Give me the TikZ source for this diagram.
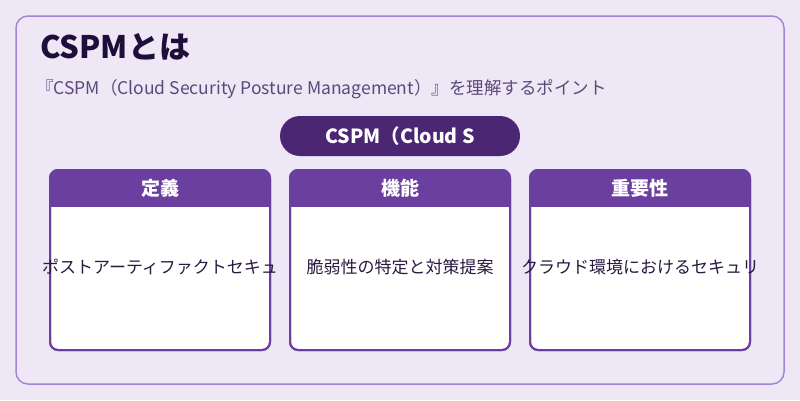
\documentclass[tikz,border=0pt]{standalone}
\usepackage{fontspec}
\setmainfont{Noto Sans CJK JP}
\begin{document}
\begin{tikzpicture}[x=1pt,y=-1pt,
  card/.style={draw=cardline,line width=2pt,fill=white,rounded corners=8pt},
  head/.style={text=white,font=\fontsize{19}{22}\selectfont\bfseries},
  body/.style={text=bodytxt,font=\fontsize{17}{20}\selectfont}]
\definecolor{bg}{HTML}{EEE7F6}
\definecolor{frame}{HTML}{A386D4}
\definecolor{cardline}{HTML}{6B3FA0}
\definecolor{pill}{HTML}{4A2673}
\definecolor{bodytxt}{HTML}{2A1A40}
\fill[bg] (0,0) rectangle (800,400);
\useasboundingbox (0,0) rectangle (800,400);
\draw[frame,line width=1.5pt,fill=bg,rounded corners=12pt] (16,16) rectangle (784,384);
\node[anchor=west,inner sep=0pt,text={rgb,255:red,30;green,14;blue,58},font=\fontsize{31}{34}\selectfont\bfseries] (title) at (40,47) {CSPMとは};
\node[anchor=west,inner sep=0pt,text={rgb,255:red,90;green,74;blue,122},font=\fontsize{17.5}{20}\selectfont] (sub) at (36,89) {『CSPM（Cloud Security Posture Management）』を理解するポイント};
\node[fill=pill,rounded corners=20pt,minimum width=240pt,minimum height=40pt,inner sep=0pt,text=white,font=\fontsize{19.5}{22}\selectfont\bfseries] (pill) at (400,136) {CSPM（Cloud S};
\foreach \x/\h/\b/\n in {50/定義/ポストアーティファクトセキュ/a,290/機能/脆弱性の特定と対策提案/b,530/重要性/クラウド環境におけるセキュリ/c}{
  \draw[card] (\x,170) rectangle ++(220,180);
  \begin{scope}
  \clip[rounded corners=8pt] (\x,170) rectangle ++(220,180);
  \fill[cardline] (\x,170) rectangle ++(220,37);
  \end{scope}
  \draw[cardline,line width=2pt,rounded corners=8pt] (\x,170) rectangle ++(220,180);
  \node[head] (h\n) at (\x+110,188) {\h};
  \node[body] (t\n) at (\x+110,267) {\b};
}
\end{tikzpicture}
\end{document}
